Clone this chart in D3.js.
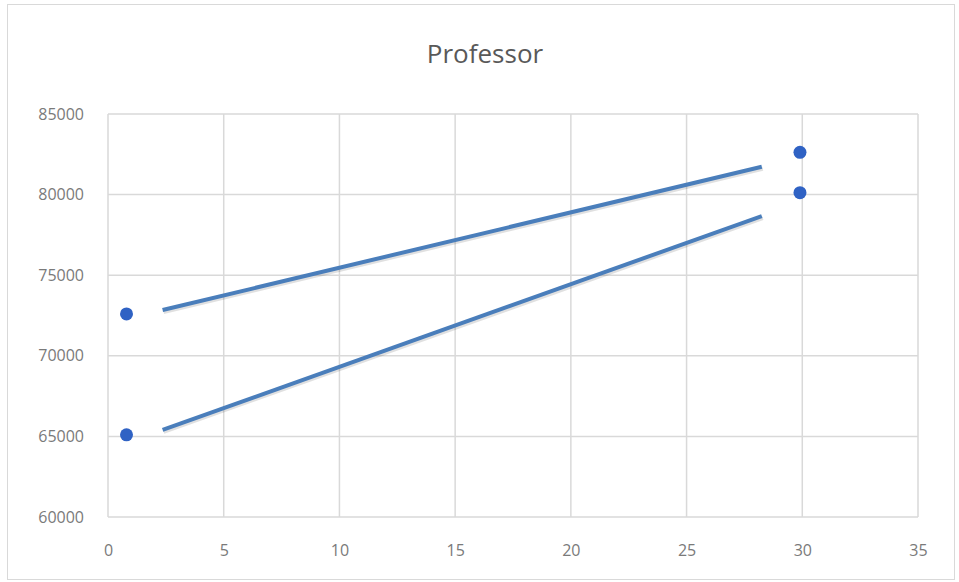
<!DOCTYPE html>
<html>
<head>
<meta charset="utf-8">
<script src="https://cdn.jsdelivr.net/npm/d3@7"></script>
<style>
  html, body { margin: 0; padding: 0; background: #fff; }
  svg { display: block; }
  .tick text { font-family: "Open Sans", "Liberation Sans", sans-serif; fill: #7a7a7a; }
</style>
</head>
<body>
<div id="chart"></div>
<script>
// points
const pointX = [0.8, 0.8, 29.9, 29.9];
const pointY = [72600, 65100, 82620, 80120];

// trend line endpoints [x, y]
const upperLine = [[2.36, 72840], [28.25, 81730]];
const lowerLine = [[2.36, 65400], [28.25, 78670]];

const xTicks = [0, 5, 10, 15, 20, 25, 30, 35];
const yTicks = [60000, 65000, 70000, 75000, 80000, 85000];

const width = 959, height = 582;
const margin = { top: 114, right: 41, bottom: 65, left: 108 };

const svg = d3.select("#chart").append("svg")
  .attr("width", width)
  .attr("height", height);

// chart border
svg.append("rect")
  .attr("x", 7.5).attr("y", 4.5)
  .attr("width", 947).attr("height", 575)
  .attr("fill", "none")
  .attr("stroke", "#d9d9d9");

const x = d3.scaleLinear().domain([0, 35]).range([margin.left, width - margin.right]);
const y = d3.scaleLinear().domain([60000, 85000]).range([height - margin.bottom, margin.top]);

// grid
svg.append("g")
  .selectAll("line")
  .data(xTicks)
  .join("line")
  .attr("x1", (d) => x(d)).attr("x2", (d) => x(d))
  .attr("y1", y(85000)).attr("y2", y(60000))
  .attr("stroke", "#d9d9d9").attr("stroke-width", 1.5);

svg.append("g")
  .selectAll("line")
  .data(yTicks)
  .join("line")
  .attr("x1", x(0)).attr("x2", x(35))
  .attr("y1", (d) => y(d)).attr("y2", (d) => y(d))
  .attr("stroke", "#d9d9d9").attr("stroke-width", 1.5);

// axes (labels only)
const xAxis = svg.append("g")
  .attr("transform", `translate(0,${y(60000)})`)
  .call(d3.axisBottom(x).tickValues(xTicks).tickSize(0).tickPadding(28));
xAxis.select(".domain").remove();
xAxis.selectAll("text").attr("font-size", 16);

const yAxis = svg.append("g")
  .attr("transform", `translate(${x(0)},0)`)
  .call(d3.axisLeft(y).tickValues(yTicks).tickSize(0).tickPadding(24).tickFormat(d3.format("d")));
yAxis.select(".domain").remove();
yAxis.selectAll("text").attr("font-size", 16);

// title
svg.append("text")
  .attr("x", 485).attr("y", 63)
  .attr("text-anchor", "middle")
  .attr("font-family", "'Open Sans', 'Liberation Sans', sans-serif")
  .attr("font-size", 26)
  .attr("fill", "#595959")
  .text("Professor");

// trend lines
const line = d3.line().x((d) => x(d[0])).y((d) => y(d[1]));
[upperLine, lowerLine].forEach((pts) => {
  svg.append("path")
    .attr("d", line(pts))
    .attr("transform", "translate(1,2)")
    .attr("fill", "none")
    .attr("stroke", "rgba(0,0,0,0.12)")
    .attr("stroke-width", 4);
  svg.append("path")
    .attr("d", line(pts))
    .attr("fill", "none")
    .attr("stroke", "#4a7ebb")
    .attr("stroke-width", 4);
});

// points
svg.append("g")
  .selectAll("circle")
  .data(pointX.map((v, i) => [v, pointY[i]]))
  .join("circle")
  .attr("cx", (d) => x(d[0]))
  .attr("cy", (d) => y(d[1]))
  .attr("r", 6.5)
  .attr("fill", "#2f62c4");
</script>
</body>
</html>
